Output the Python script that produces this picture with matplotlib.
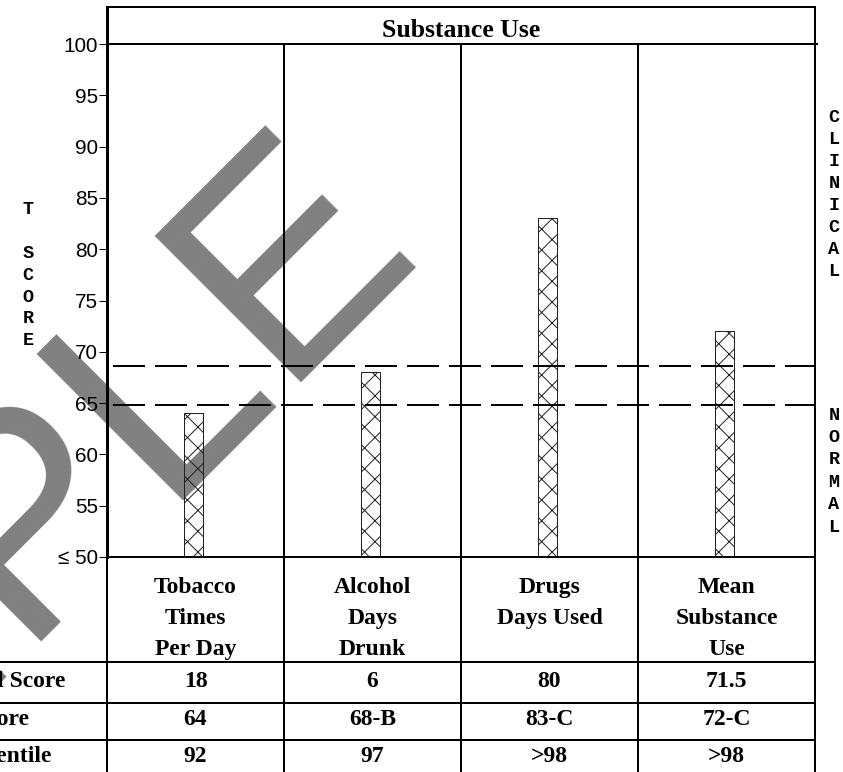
import numpy as np
import matplotlib
matplotlib.use("Agg")
import matplotlib.pyplot as plt

# ---------------- data ----------------
header = "Substance Use"
categories = ["Tobacco\nTimes\nPer Day", "Alcohol\nDays\nDrunk", "Drugs\nDays Used", "Mean\nSubstance\nUse"]
t_scores = [64, 68, 83, 72]
raw_scores = ["18", "6", "80", "71.5"]
t_labels = ["64", "68-B", "83-C", "72-C"]
percentiles = ["92", "97", ">98", ">98"]
row_labels = ["Total Score", "T Score", "Percentile"]
thresholds = [68.6, 64.8]
y_ticks = [50, 55, 60, 65, 70, 75, 80, 85, 90, 95, 100]
y_ticklabels = ["\u2264 50", "55", "60", "65", "70", "75", "80", "85", "90", "95", "100"]
left_word = "T SCORE"
right_upper = "CLINICAL"
right_lower = "NORMAL"
watermark = "SAMPLE"

# ---------------- layout (pixels) ----------------
W, H = 843, 772
DPI = 125
PT = 72.0 / DPI          # points per pixel
def fs(px):
    return px * PT
L, R = 107, 815          # chart left / right
TOP_FRAME, HDR_BOT, PLOT_BOT = 7, 44, 557
ROW_LINES = [662, 703, 740]
CAT_BASE = [593, 624, 655]
ROW_BASE = [687, 725, 762]

serif = "Liberation Serif"
sans = "Liberation Sans"
mono = "Liberation Mono"
plt.rcParams["hatch.linewidth"] = 1.0 * PT

fig = plt.figure(figsize=(W / DPI, H / DPI), dpi=DPI)
fig.patch.set_facecolor("white")

# watermark underneath everything
fig.text(422 / W, 1 - 248 / H, watermark, fontsize=fs(300), family=sans, color="#808080",
         rotation=45, rotation_mode="anchor", ha="right", va="baseline", zorder=-10)

# chart axes
ax = fig.add_axes([L / W, 1 - PLOT_BOT / H, (R - L) / W, (PLOT_BOT - HDR_BOT) / H])
ax.patch.set_visible(False)
ax.set_xlim(0, len(categories))
ax.set_ylim(50, 100)
xs = np.arange(len(categories)) + 0.49
ax.bar(xs, np.array(t_scores) - 50, bottom=50, width=0.108, facecolor="none",
       edgecolor="#222222", linewidth=1.0 * PT, hatch="xx", zorder=3)
for th in thresholds:
    ax.axhline(th, color="black", lw=2 * PT, ls=(18, (16, 5)), zorder=4)
for i in range(1, len(categories)):
    ax.axvline(i, color="black", lw=2 * PT, zorder=2)
ax.set_yticks(y_ticks)
ax.set_yticklabels(y_ticklabels, fontsize=fs(20.8), family=sans)
ax.set_xticks([])
ax.tick_params(axis="y", direction="out", length=8 * PT, width=1 * PT, pad=1 * PT, colors="black")
for s in ["top", "right", "bottom"]:
    ax.spines[s].set_visible(False)
ax.spines["left"].set_linewidth(3 * PT)

# overlay axes in pixel coordinates for frame, table and labels
ov = fig.add_axes([0, 0, 1, 1])
ov.set_xlim(0, W)
ov.set_ylim(H, 0)
ov.axis("off")
ov.patch.set_visible(False)

lw = 2 * PT
def hline(y, x0, x1, w=lw):
    ov.plot([x0, x1], [y, y], color="black", lw=w, solid_capstyle="butt")
def vline(x, y0, y1, w=lw):
    ov.plot([x, x], [y0, y1], color="black", lw=w, solid_capstyle="butt")

hline(TOP_FRAME, L - 1, R + 1)
hline(HDR_BOT, L, R + 3)
hline(PLOT_BOT, L, R)
for y in ROW_LINES:
    hline(y, 0, R)
vline(L, TOP_FRAME, PLOT_BOT, 3 * PT)
vline(L, PLOT_BOT, H)
vline(R, TOP_FRAME, H)
colw = (R - L) / len(categories)
for i in range(1, len(categories)):
    vline(L + i * colw, PLOT_BOT, H)

ov.text((L + R) / 2, 37, header, ha="center", va="baseline", fontsize=fs(25.8),
        family=serif, weight="bold")

for i, cat in enumerate(categories):
    cx = L + (i + 0.5) * colw
    for j, line in enumerate(cat.split("\n")):
        ov.text(cx, CAT_BASE[j], line, ha="center", va="baseline", fontsize=fs(23.6),
                family=serif, weight="bold")
    for rb, vals in zip(ROW_BASE, [raw_scores, t_labels, percentiles]):
        ov.text(cx, rb, vals[i], ha="center", va="baseline", fontsize=fs(23.6),
                family=serif, weight="bold")

for rb, lab in zip(ROW_BASE, row_labels):
    ov.text(-48, rb, lab, ha="left", va="baseline", fontsize=fs(23.6), family=serif, weight="bold")

def vertical_word(word, x, y0, step):
    for k, ch in enumerate(word):
        if ch.strip():
            ov.text(x, y0 + k * step, ch, ha="center", va="center", fontsize=fs(18.5),
                    family=mono, weight="bold")

vertical_word(left_word, 28, 210, 21.75)
vertical_word(right_upper, 834, 118, 21.9)
vertical_word(right_lower, 834, 415, 22.4)

fig.savefig("out.png", dpi=DPI, facecolor="white")
